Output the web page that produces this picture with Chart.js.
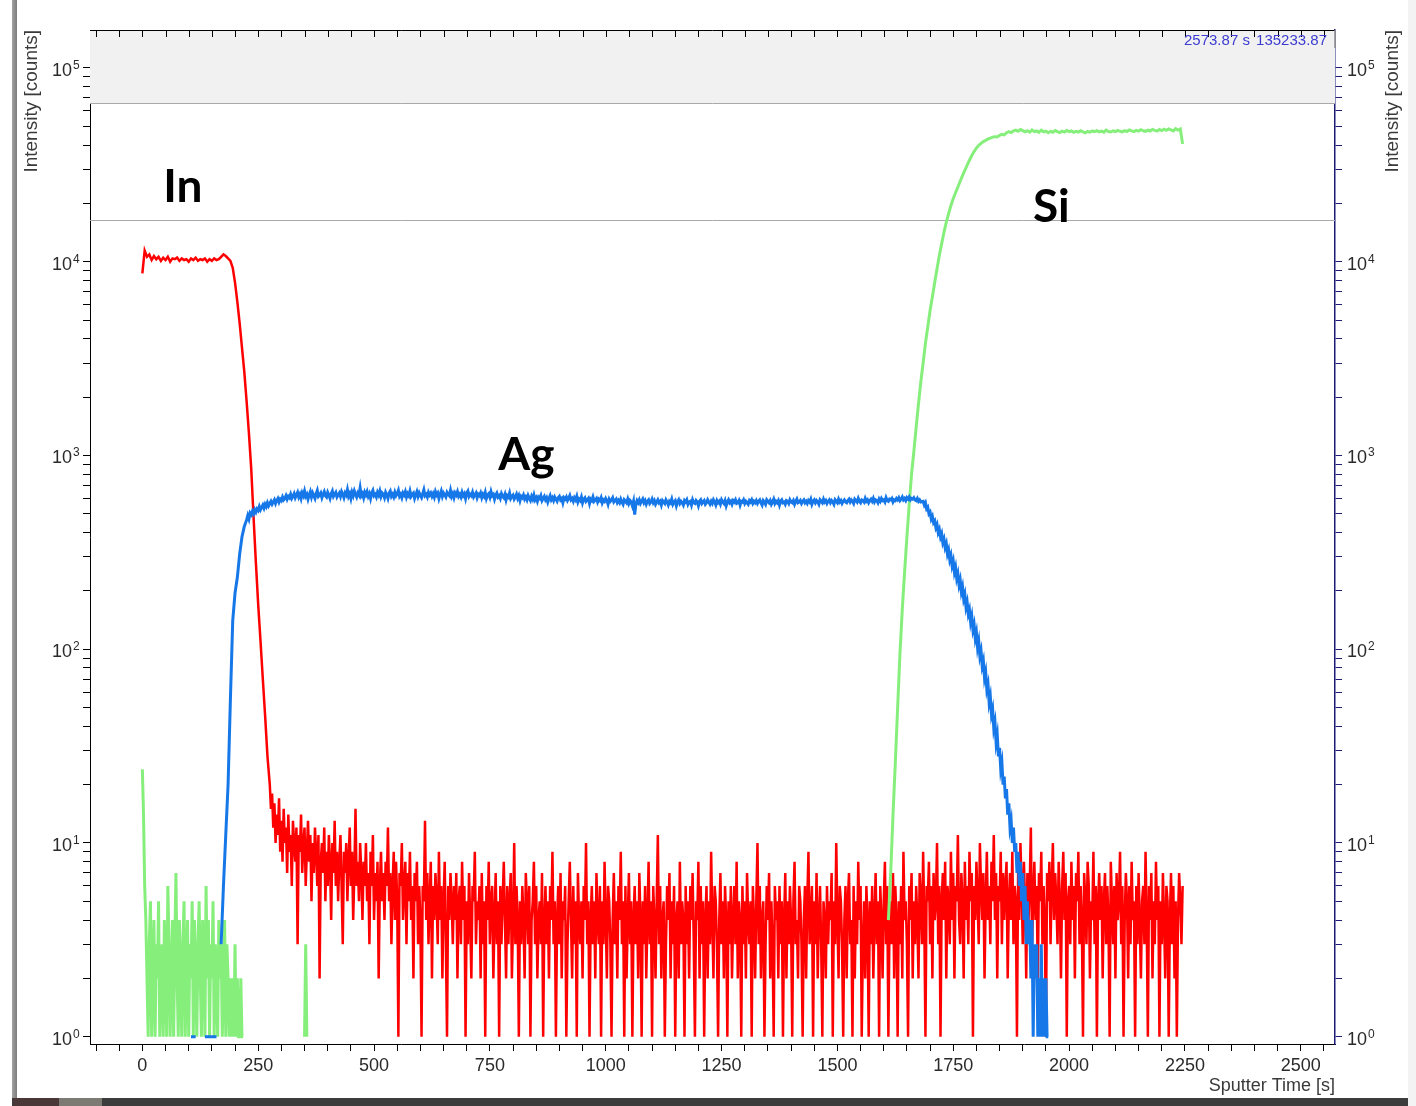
<!DOCTYPE html>
<html>
<head>
<meta charset="utf-8">
<title>Sputter depth profile</title>
<script src="https://cdn.jsdelivr.net/npm/chart.js@4.4.1/dist/chart.umd.min.js"></script>
<style>
  html, body { margin: 0; padding: 0; background: #fff; }
  #wrap { position: relative; width: 1416px; height: 1106px; overflow: hidden; background: #fff; }
  #profile { position: absolute; left: 0; top: 0; }
  #frameLeft { position: absolute; left: 12px; top: 0; width: 5px; height: 1106px; background: linear-gradient(to right, #a2a2a2, #7e7e7e); }
  #frameRight { position: absolute; left: 1408px; top: 0; width: 8px; height: 1106px; background: #f3f3f3; }
  #taskbar { position: absolute; left: 12px; top: 1098px; width: 1396px; height: 8px; background: #3c3c3c; }
  #taskbar .a { position: absolute; left: 1px; top: 0; width: 46px; height: 8px; background: #4a3838; }
  #taskbar .b { position: absolute; left: 47px; top: 0; width: 43px; height: 8px; background: #7d7a74; }
</style>
</head>
<body>
<div id="wrap">
  <canvas id="profile" width="1416" height="1106"></canvas>
  <div id="frameLeft"></div>
  <div id="frameRight"></div>
  <div id="taskbar"><div class="a"></div><div class="b"></div></div>
</div>
<script>
// sampling intervals [s]
const STEP_COARSE = 5;
const STEP_FINE = 2.5;

// In: layer signal and its fall (coarse), then background counts (fine)
const inHeadStart = 0;
const inHead = [
  8700, 11400, 10600, 10900, 10200, 10700, 10300, 10600, 10100, 10500, 10200, 10600, 10000, 10400, 10300, 10500, 10100, 10400, 10200, 10300,
  10000, 10400, 10200, 10500, 10100, 10300, 10200, 10400, 10000, 10300, 10100, 10400, 10200, 10300, 10600, 10900, 10700, 10400, 10100, 9300,
  7800, 6200, 4800, 3600, 2700, 1900, 1300, 850, 480, 280, 170, 110, 70, 45, 28
];
const inTailStart = 275;
const inTail = [
  20, 15, 18, 12, 16, 10, 14, 11, 17, 9, 13, 8, 15, 10, 12, 7, 14, 9, 11, 6,
  13, 10, 8, 12, 3, 11, 9, 14, 7, 10, 12, 6, 9, 13, 8, 11, 5, 10, 7, 12,
  9, 6, 11, 2, 8, 10, 7, 12, 5, 9, 6, 11, 8, 4, 10, 7, 13, 6, 9, 5,
  8, 11, 6, 3, 9, 7, 10, 5, 8, 12, 6, 9, 4, 7, 15, 6, 8, 5, 10, 7,
  4, 8, 6, 10, 5, 7, 3, 9, 6, 11, 4, 7, 5, 8, 2, 6, 9, 5, 7, 4,
  8, 6, 12, 5, 7, 3, 6, 9, 4, 8, 5, 1, 7, 6, 10, 4, 6, 8, 3, 7,
  5, 9, 4, 6, 2, 7, 5, 8, 3, 6, 4, 1, 6, 5, 13, 4, 7, 3, 5, 8,
  2, 6, 4, 7, 5, 3, 9, 4, 6, 2, 5, 8, 3, 1, 6, 4, 7, 5, 3, 6,
  4, 7, 2, 5, 6, 3, 8, 4, 6, 1, 5, 3, 7, 4, 2, 6, 5, 9, 3, 5,
  4, 6, 2, 7, 3, 5, 1, 6, 4, 8, 3, 5, 6, 2, 4, 7, 3, 5, 1, 6,
  3, 5, 8, 4, 2, 6, 3, 5, 7, 2, 4, 10, 3, 6, 4, 1, 5, 3, 6, 4,
  2, 7, 5, 3, 6, 1, 4, 5, 8, 3, 6, 2, 4, 5, 3, 7, 1, 4, 6, 3,
  5, 2, 6, 4, 9, 3, 5, 1, 4, 6, 3, 7, 2, 5, 4, 6, 1, 3, 5, 8,
  4, 2, 6, 3, 5, 1, 7, 4, 3, 5, 2, 6, 4, 10, 3, 5, 1, 4, 6, 3,
  5, 2, 7, 4, 3, 6, 1, 5, 3, 8, 4, 2, 6, 5, 3, 1, 4, 7, 3, 5,
  2, 6, 4, 9, 3, 5, 1, 6, 2, 4, 7, 3, 5, 1, 4, 6, 3, 5, 2, 7,
  4, 1, 5, 3, 6, 2, 4, 8, 3, 5, 1, 6, 4, 2, 5, 11, 3, 6, 2, 4,
  5, 1, 3, 6, 4, 7, 2, 5, 3, 6, 1, 4, 5, 2, 8, 3, 5, 4, 1, 6,
  3, 5, 2, 6, 4, 7, 3, 1, 5, 4, 8, 2, 6, 3, 5, 1, 4, 6, 2, 5,
  3, 9, 4, 2, 6, 5, 3, 1, 4, 7, 3, 5, 2, 6, 4, 1, 5, 3, 6, 2,
  4, 6, 3, 8, 2, 5, 4, 1, 6, 3, 5, 2, 7, 4, 3, 5, 1, 6, 4, 2,
  5, 10, 3, 6, 2, 4, 5, 1, 3, 6, 4, 7, 2, 5, 3, 1, 6, 4, 5, 2,
  6, 3, 5, 1, 4, 7, 2, 5, 3, 6, 4, 1, 5, 8, 3, 4, 2, 6, 5, 3,
  1, 4, 6, 2, 5, 9, 3, 4, 6, 1, 5, 3, 7, 2, 4, 6, 3, 1, 5, 4,
  2, 6, 3, 5, 4, 7, 1, 5, 3, 10, 4, 2, 6, 5, 3, 1, 4, 6, 2, 5,
  7, 3, 4, 1, 6, 2, 5, 3, 8, 4, 6, 1, 3, 5, 2, 6, 4, 1, 5, 3,
  6, 2, 4, 7, 3, 5, 1, 6, 4, 2, 5, 8, 3, 6, 1, 4, 5, 3, 7, 2,
  6, 4, 1, 5, 3, 6, 2, 9, 4, 5, 3, 1, 6, 4, 7, 2, 5, 3, 6, 4,
  2, 7, 5, 3, 9, 4, 1, 6, 5, 8, 3, 6, 2, 7, 4, 5, 10, 3, 6, 1,
  5, 7, 4, 8, 2, 6, 5, 3, 9, 4, 7, 2, 6, 5, 11, 4, 3, 7, 5, 2,
  8, 4, 6, 3, 9, 5, 7, 1, 6, 4, 8, 5, 3, 10, 6, 4, 7, 2, 5, 9,
  4, 6, 3, 8, 5, 11, 4, 7, 2, 6, 5, 9, 3, 7, 4, 6, 8, 2, 5, 7,
  4, 9, 3, 6, 5, 1, 7, 4, 10, 6, 3, 8, 5, 2, 7, 4, 6, 12, 3, 5,
  8, 4, 6, 2, 7, 5, 9, 3, 6, 4, 1, 7, 5, 8, 3, 6, 10, 4, 7, 5,
  3, 8, 5, 2, 6, 9, 4, 7, 1, 5, 6, 3, 8, 4, 6, 2, 7, 5, 9, 3,
  6, 4, 1, 7, 5, 3, 8, 6, 2, 5, 4, 9, 3, 6, 1, 5, 7, 4, 6, 2,
  5, 7, 3, 6, 4, 1, 8, 5, 3, 6, 2, 7, 4, 5, 9, 3, 6, 1, 4, 7,
  5, 2, 6, 3, 8, 4, 5, 1, 6, 3, 7, 4, 2, 5, 6, 3, 9, 4, 1, 6,
  4, 7, 2, 5, 3, 8, 4, 6, 1, 5, 3, 7, 4, 2, 6, 5, 1, 4, 7, 3,
  6, 2, 5, 1, 4, 7, 5, 3, 6
];

// Ag: isolated counts and rise (coarse), plateau and fall (fine); null = no counts
const agHeadStart = 105;
const agHead = [
  1, 1, 1, null, null, null, 1, 1, 1, 1, 1, 1, null, 3, 6, 11, 20, 55, 140, 195,
  235, 310, 380, 430, 465
];
const agPlateauStart = 227.5;
const agPlateau = [
  490, 470, 505, 495, 515, 500, 525, 510, 530, 520, 545, 525, 540, 555, 535, 560, 545, 570, 550, 565,
  580, 560, 575, 590, 565, 585, 600, 575, 595, 585, 610, 590, 600, 620, 595, 615, 605, 630, 600, 615,
  635, 605, 625, 645, 610, 630, 600, 640, 620, 655, 615, 630, 595, 625, 650, 610, 640, 620, 600, 635,
  660, 615, 625, 640, 605, 630, 650, 620, 610, 645, 625, 600, 635, 655, 615, 630, 645, 610, 625, 640,
  615, 650, 630, 605, 640, 625, 665, 615, 635, 600, 645, 620, 655, 630, 610, 640, 625, 680, 620, 635,
  605, 645, 625, 650, 615, 635, 600, 640, 660, 620, 630, 610, 645, 625, 655, 615, 640, 630, 605, 645,
  625, 600, 640, 655, 615, 630, 610, 645, 620, 635, 660, 615, 630, 605, 640, 625, 650, 610, 635, 620,
  655, 615, 630, 640, 600, 625, 650, 615, 640, 620, 605, 635, 665, 620, 630, 610, 645, 625, 640, 615,
  635, 610, 650, 625, 640, 600, 630, 655, 615, 640, 625, 610, 645, 630, 620, 660, 615, 635, 605, 640,
  625, 650, 615, 630, 610, 645, 620, 635, 600, 640, 655, 615, 630, 620, 645, 610, 625, 640, 605, 630,
  620, 640, 605, 630, 615, 645, 600, 625, 635, 610, 650, 620, 630, 595, 625, 640, 610, 620, 600, 635,
  615, 605, 630, 590, 620, 610, 640, 600, 615, 625, 595, 610, 630, 600, 620, 585, 615, 605, 625, 595,
  610, 590, 620, 600, 585, 615, 595, 625, 590, 605, 580, 610, 600, 620, 585, 600, 615, 590, 605, 575,
  600, 620, 590, 605, 585, 610, 595, 580, 605, 615, 590, 600, 570, 605, 595, 610, 585, 600, 620, 590,
  600, 580, 605, 590, 615, 575, 595, 585, 610, 570, 595, 605, 580, 590, 600, 565, 595, 585, 610, 580,
  590, 600, 575, 595, 585, 605, 570, 590, 580, 600, 585, 560, 595, 580, 590, 605, 575, 585, 595, 570,
  585, 570, 595, 575, 560, 590, 580, 570, 595, 565, 585, 575, 550, 580, 495, 560, 585, 570, 590, 565,
  580, 595, 570, 585, 560, 580, 590, 565, 575, 595, 570, 585, 560, 575, 590, 570, 580, 555, 585, 575,
  565, 590, 575, 555, 580, 570, 595, 560, 575, 585, 550, 575, 590, 565, 580, 570, 555, 585, 575, 590,
  560, 575, 580, 555, 590, 570, 565, 585, 575, 550, 580, 590, 565, 575, 585, 560, 570, 590, 575, 560,
  580, 565, 590, 575, 555, 585, 570, 580, 560, 590, 575, 565, 585, 550, 575, 590, 570, 580, 560, 585,
  575, 590, 565, 570, 585, 555, 580, 575, 590, 565, 580, 570, 560, 585, 575, 590, 565, 580, 570, 585,
  565, 580, 590, 570, 555, 585, 575, 560, 590, 580, 570, 585, 560, 575, 595, 565, 580, 570, 585, 555,
  580, 590, 570, 575, 560, 585, 580, 565, 590, 575, 570, 585, 560, 580, 595, 570, 575, 585, 565, 580,
  590, 570, 580, 565, 585, 575, 595, 560, 580, 590, 570, 585, 575, 560, 590, 580, 570, 595, 575, 585,
  565, 580, 590, 570, 585, 575, 560, 590, 580, 570, 595, 575, 585, 565, 580, 590, 575, 570, 585, 595,
  575, 590, 580, 565, 595, 585, 575, 600, 580, 570, 590, 585, 575, 600, 580, 590, 570, 585, 595, 580,
  600, 575, 590, 585, 570, 595, 580, 600, 585, 590, 575, 605, 585, 580, 595, 590, 600, 575, 590, 585,
  600, 590, 605, 585, 595, 610, 590, 600, 585, 605, 595, 610, 590, 600, 595, 605, 590, 585, 600, 580,
  590, 575
];
const agFallStart = 1685;
const agFall = [
  580, 555, 570, 530, 540, 500, 510, 470, 485, 450,
  460, 425, 440, 400, 415, 380, 395, 355, 370, 335,
  350, 310, 325, 290, 305, 270, 285, 250, 265, 232,
  245, 215, 228, 198, 210, 182, 192, 165, 175, 152,
  160, 138, 148, 126, 134, 114, 122, 102, 110, 92,
  98, 82, 87, 71, 76, 62, 66, 53, 57, 46,
  49, 39, 42, 33, 36, 28, 31, 24, 26, 20,
  22, 17, 19, 14, 16, 12, 13, 10, 12, 9,
  10, 7, 9, 6, 8, 5, 7, 4, 6, 3,
  5, 3, 4, 2, 4, 1, 3, 2, 3, 1,
  2, 1, 3, 1, 2, 1, 2, 1, 1
];

// Si: surface bursts (fine), one isolated count, then the substrate (coarse)
const siHeadStart = 0;
const siHead = [
  24, 14, 6, 4, 2, 1, 3, 5, 1, 2, 4, 1, 3, 2, 5, 1, 2, 3, 1, 4,
  2, 1, 6, 3, 1, 2, 4, 1, 3, 7, 2, 1, 4, 2, 1, 3, 5, 1, 2, 4,
  1, 3, 2, 5, 1, 4, 2, 1, 3, 5, 2, 1, 4, 3, 1, 6, 2, 4, 1, 3,
  2, 5, 1, 3, 2, 1, 4, 2, 3, 1, 2, 4, 1, 3, 2, 1, 2, 1, 2, 1,
  3, 1, 2, 1, 1, 2, 1, 1
];
const siSpikeStart = 350;
const siSpike = [1, 3, 1];
const siTailStart = 1610;
const siTail = [
  4, 7, 14, 26, 50, 95, 160, 250, 380, 560, 800, 1050, 1400, 1850, 2400, 3000, 3800, 4600, 5600, 6600,
  7800, 9200, 10800, 12400, 14200, 16000, 17700, 19500, 21200, 22700, 24300, 26000, 27800, 29600, 31500, 33400, 35300, 37000, 38600, 39900,
  40800, 41700, 42300, 43000, 43400, 43900, 44200, 44000, 44900, 45500, 45200, 46300, 46900, 46400, 47300, 47800, 47100, 48100, 47500, 46800,
  47400, 46600, 47900, 46900, 47300, 46500, 47700, 46800, 47200, 46300, 47100, 46600, 47500, 46900, 46400, 47200, 46700, 47600, 46900, 47300,
  46500, 47100, 46700, 47400, 46800, 46300, 47000, 46600, 47300, 46900, 47500, 46800, 47200, 46600, 47800, 47000, 46700, 47400, 46900, 47600,
  47100, 46800, 47500, 47000, 47900, 47300, 46900, 47600, 47200, 48000, 47400, 47100, 47800, 47300, 48200, 47600, 47200, 48100, 47500, 48300,
  47700, 48500, 47900, 47300, 48600, 47800, 48400, 40500
];

// axes
const X_MIN = -113;
const X_MAX = 2573.87;
const Y_MIN = 0.917;
const Y_MAX = 157000;
const xMinorStep = 50;
const xLabelTicks = [0, 250, 500, 750, 1000, 1250, 1500, 1750, 2000, 2250, 2500];
const yDecades = [1, 10, 100, 1000, 10000, 100000];
const yMinorSteps = [1, 2, 3, 4, 5, 6, 7, 8, 9];

// shaded region and reference line levels
const bandLevel = 65960;
const refLevel = 16360;

// element names placed in data space (time, intensity at baseline)
const elementNames = ['In', 'Ag', 'Si'];
const elementTime = [45, 768, 1922];
const elementLevel = [20330, 840, 16030];

// cursor readout
const cursorTime = '2573.87';
const cursorLevel = '135233.87';

const FONT = '"Liberation Sans", Arial, sans-serif';

const series = (start, step, values) => values.map((v, i) => ({ x: start + i * step, y: v }));
const gap = t => ({ x: t, y: null });

const inPoints = [].concat(
  series(inHeadStart, STEP_COARSE, inHead),
  series(inTailStart, STEP_FINE, inTail)
);
const agPoints = [].concat(
  series(agHeadStart, STEP_COARSE, agHead),
  series(agPlateauStart, STEP_FINE, agPlateau),
  series(agFallStart, STEP_FINE, agFall)
);
const siPoints = [].concat(
  series(siHeadStart, STEP_FINE, siHead), [gap(220)],
  series(siSpikeStart, STEP_FINE, siSpike), [gap(360)],
  series(siTailStart, STEP_COARSE, siTail)
);

const profileDecor = {
  id: 'profileDecor',
  beforeDatasetsDraw(chart) {
    const { ctx, chartArea: a, scales: { y } } = chart;
    const yBand = Math.round(y.getPixelForValue(bandLevel)) + 0.5;
    const yRef = Math.round(y.getPixelForValue(refLevel)) + 0.5;
    ctx.save();
    ctx.fillStyle = '#f1f1f1';
    ctx.fillRect(a.left, a.top, a.right - a.left, yBand - a.top);
    ctx.strokeStyle = '#a9a9a9';
    ctx.lineWidth = 1;
    ctx.beginPath();
    ctx.moveTo(a.left, yBand); ctx.lineTo(a.right, yBand);
    ctx.moveTo(a.left, yRef); ctx.lineTo(a.right, yRef);
    ctx.stroke();
    ctx.restore();
  },
  afterDraw(chart) {
    const { ctx, chartArea: a, scales: { x, y } } = chart;
    ctx.save();

    // top frame with inward ticks
    ctx.strokeStyle = '#000';
    ctx.lineWidth = 1;
    ctx.beginPath();
    ctx.moveTo(a.left, a.top + 0.5); ctx.lineTo(a.right, a.top + 0.5);
    x.ticks.forEach(t => {
      const px = Math.round(x.getPixelForValue(t.value)) + 0.5;
      ctx.moveTo(px, a.top); ctx.lineTo(px, a.top + 7);
    });
    ctx.stroke();
    // upper end of the right axis is plain, the navy part starts lower
    ctx.strokeStyle = '#8a8a8a';
    ctx.lineWidth = 1.5;
    ctx.beginPath();
    ctx.moveTo(a.right, a.top); ctx.lineTo(a.right, a.top + 18);
    ctx.stroke();
    ctx.clearRect(a.right + 1, a.top, 2, 18);

    // decade labels with raised exponent on both sides
    ctx.fillStyle = '#2a2a2a';
    yDecades.forEach(d => {
      const py = y.getPixelForValue(d);
      const exp = String(Math.round(Math.log10(d)));
      ctx.font = '18px ' + FONT;
      ctx.textAlign = 'right';
      ctx.fillText('10', 72, py + 8);
      ctx.textAlign = 'left';
      ctx.fillText('10', 1347, py + 8);
      const w = ctx.measureText('10').width;
      ctx.font = '12px ' + FONT;
      ctx.fillText(exp, 73, py + 1);
      ctx.fillText(exp, 1347 + w + 1, py + 1);
    });

    // axis titles
    ctx.fillStyle = '#3a3a3a';
    ctx.font = '19px ' + FONT;
    [32, 1393].forEach(cx => {
      ctx.save();
      ctx.translate(cx, a.top);
      ctx.rotate(-Math.PI / 2);
      ctx.textAlign = 'right';
      ctx.textBaseline = 'middle';
      ctx.fillText('Intensity [counts]', 0, 0);
      ctx.restore();
    });
    ctx.font = '18px ' + FONT;
    ctx.textAlign = 'right';
    ctx.fillText('Sputter Time [s]', a.right, 1091);

    // cursor readout
    ctx.fillStyle = '#3c3cd2';
    ctx.font = '15px ' + FONT;
    ctx.textAlign = 'left';
    ctx.fillText(cursorTime + ' s', 1184, 45);
    ctx.textAlign = 'right';
    ctx.fillText(cursorLevel, 1327, 45);

    // element names
    ctx.fillStyle = '#000';
    ctx.font = 'bold 46px Lato, "Open Sans", sans-serif';
    ctx.textAlign = 'left';
    elementNames.forEach((name, i) => {
      ctx.fillText(name, x.getPixelForValue(elementTime[i]), y.getPixelForValue(elementLevel[i]));
    });

    ctx.restore();
  }
};

const logTicks = scale => {
  const ticks = [];
  yDecades.forEach(d => yMinorSteps.forEach(m => {
    const v = d * m;
    if (v >= scale.min && v <= scale.max) ticks.push({ value: v, major: m === 1 });
  }));
  scale.ticks = ticks;
};

const lineStyle = { pointRadius: 0, spanGaps: false, fill: false, tension: 0, yAxisID: 'y' };

new Chart(document.getElementById('profile'), {
  type: 'line',
  data: {
    datasets: [
      { ...lineStyle, label: 'Ag', data: agPoints, borderColor: '#1677e8', borderWidth: 3 },
      { ...lineStyle, label: 'Si', data: siPoints, borderColor: '#86ef7c', borderWidth: 3 },
      { ...lineStyle, label: 'In', data: inPoints, borderColor: '#ff0000', borderWidth: 2.5 }
    ]
  },
  options: {
    responsive: false,
    animation: false,
    events: [],
    layout: { padding: { top: 30, left: 0, right: 0, bottom: 0 } },
    plugins: { legend: { display: false }, tooltip: { enabled: false } },
    scales: {
      x: {
        type: 'linear',
        position: 'bottom',
        min: X_MIN,
        max: X_MAX,
        border: { color: '#000', width: 1 },
        grid: { drawOnChartArea: false, tickLength: 7, tickColor: '#000' },
        ticks: {
          autoSkip: false,
          maxRotation: 0,
          padding: 4,
          color: '#2a2a2a',
          font: { size: 18, family: FONT },
          callback: v => xLabelTicks.includes(v) ? String(v) : ''
        },
        afterBuildTicks: scale => {
          const ticks = [];
          for (let v = Math.ceil(X_MIN / xMinorStep) * xMinorStep; v <= X_MAX; v += xMinorStep) ticks.push({ value: v });
          scale.ticks = ticks;
        },
        afterFit: scale => { scale.height = 62; }
      },
      y: {
        type: 'logarithmic',
        position: 'left',
        min: Y_MIN,
        max: Y_MAX,
        border: { color: '#000', width: 1 },
        grid: { drawOnChartArea: false, tickLength: 7, tickColor: '#000' },
        ticks: { display: false, autoSkip: false },
        afterBuildTicks: logTicks,
        afterFit: scale => { scale.width = 90; }
      },
      y2: {
        type: 'logarithmic',
        position: 'right',
        min: Y_MIN,
        max: Y_MAX,
        border: { color: '#1c1c78', width: 1.5 },
        grid: { drawOnChartArea: false, tickLength: 7, tickColor: '#1c1c78' },
        ticks: { display: false, autoSkip: false },
        afterBuildTicks: logTicks,
        afterFit: scale => { scale.width = 81; }
      }
    }
  },
  plugins: [profileDecor]
});
</script>
</body>
</html>
